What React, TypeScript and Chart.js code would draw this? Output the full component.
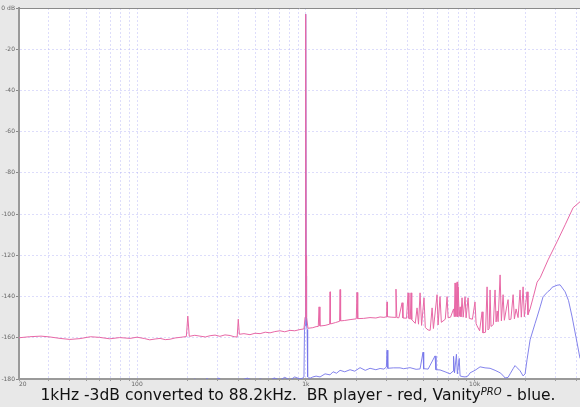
import React, { useEffect, useRef } from "react";
import { Chart, registerables } from "chart.js";

Chart.register(...registerables);

// ---- data (frequency in Hz, level in dB) ----
const redHz = [
  20, 23, 27, 30.5, 35, 40, 46, 53, 60, 69,
  79, 91, 100, 111, 119, 128, 137, 147, 157, 168,
  180, 196, 200, 204, 220, 236, 254, 271, 290, 310,
  332, 356, 376, 392, 398, 404, 430, 467, 500, 536,
  575, 614, 655, 703, 750, 806, 860, 924, 975, 990,
  996, 1000, 1004, 1010, 1030, 1100, 1150, 1185, 1198, 1212,
  1300, 1385, 1392, 1400, 1500, 1585, 1596, 1607, 1700, 1828,
  1990, 2010, 2030, 2200, 2400, 2600, 2753, 2900, 3010, 3028,
  3045, 3200, 3380, 3420, 3460, 3560, 3716, 3760, 3950, 4034,
  4080, 4160, 4200, 4240, 4450, 4559, 4650, 4751, 4850, 5014,
  5100, 5296, 5450, 5598, 5700, 5989, 6073, 6237, 6350, 6700,
  6867, 6963, 7200, 7500, 7580, 7657, 7750, 7874, 7940, 7982,
  8100, 8200, 8300, 8421, 8550, 8774, 8900, 9145, 9300, 9700,
  10050, 10200, 10330, 10700, 11070, 11200, 11600, 11850, 12000, 12200,
  12340, 12500, 12900, 13210, 13400, 13600, 13770, 14150, 14400, 14740,
  15000, 15400, 15780, 16000, 16400, 16900, 17200, 17600, 18080, 18580,
  18900, 19360, 19700, 20100, 20430, 20700, 21300, 22190, 23440, 24440,
  27230, 30770, 34360, 38300, 42080,
];
const redDb = [
  -160, -159.5, -159.2, -159.6, -160.3, -160.8, -160.4, -159.5, -159.8, -160.5,
  -159.9, -160.3, -159.7, -160.4, -161, -160.6, -160.3, -160.9, -160.7, -160.1,
  -159.8, -159.4, -149.5, -159.3, -158.8, -159.2, -159.6, -159.0, -158.7, -159.3,
  -158.6, -158.9, -159.5, -159.6, -151, -158.3, -158.0, -158.5, -157.8, -158.0,
  -157.3, -157.6, -157.0, -156.6, -157.1, -156.4, -156.6, -156.0, -155.7, -150,
  -120, -3, -120, -150, -155.4, -155.1, -154.6, -154.5, -145, -154.3,
  -154, -153.4, -137.7, -153.3, -152.6, -152, -136.6, -151.8, -151.6, -151.2,
  -150.8, -138, -150.7, -150.6, -150.2, -150.4, -149.9, -150.1, -149.8, -142.6,
  -149.8, -150, -150.1, -136.4, -150.2, -150.3, -143, -150.4, -150.5, -138.2,
  -150.6, -150.9, -138.2, -151.2, -153, -145.5, -153.4, -138.2, -154, -140.6,
  -155, -156.2, -156.4, -145.5, -155.5, -139.1, -153.8, -140, -152.5, -151,
  -140, -150.3, -150, -146, -149.8, -133.4, -149.7, -132.9, -149.8, -135.3,
  -149.6, -145, -149.8, -140.6, -150, -140.1, -150.3, -140.6, -150.6, -151,
  -142.6, -153.1, -154.2, -156.6, -147.4, -157.6, -157.3, -135.3, -156.2, -155.5,
  -136.8, -154.5, -153.6, -136.8, -152.3, -147, -152.2, -129.5, -151.8, -139.1,
  -151.5, -146, -141.5, -151.2, -151, -139.1, -150.8, -146, -150.2, -136.8,
  -150, -135.3, -149.8, -143, -137.7, -148.8, -146, -140.6, -133, -130.9,
  -122.2, -113.4, -105.2, -96.9, -94,
];

const blueHz = [
  20, 60, 100, 140, 180, 200, 220, 240, 260, 280,
  306, 330, 360, 400, 450, 500, 536, 600, 650, 703,
  750, 806, 860, 924, 960, 975, 982, 990, 996, 1000,
  1004, 1010, 1018, 1025, 1040, 1070, 1100, 1150, 1214, 1300,
  1391, 1450, 1520, 1595, 1700, 1828, 1950, 2095, 2250, 2401,
  2600, 2753, 2900, 3000, 3028, 3060, 3300, 3614, 3800, 4142,
  4500, 4751, 4945, 4990, 5300, 5825, 5900, 6237, 6679, 7149,
  7449, 7500, 7600, 7800, 7900, 8100, 8200, 8421, 8774, 9145,
  9400, 10050, 10770, 11530, 12340, 13210, 13770, 14150, 14700, 15140,
  15780, 16220, 16900, 17350, 17840, 18580, 19360, 19900, 20430, 21300,
  22810, 23440, 24440, 25430, 27230, 27990, 28770, 30770, 32070, 34360,
  36000, 37790, 40450, 42080,
];
const blueDb = [
  -183, -183, -182.5, -182, -181, -182, -180, -181.5, -179.8, -181.5,
  -179.5, -182, -180.5, -181, -179.6, -181, -180, -181, -179.5, -180.5,
  -179.2, -180.5, -179, -180, -179.5, -179, -156, -154, -130, -3,
  -130, -154, -156, -179, -179.5, -179.5, -179, -178.6, -179, -177.5,
  -178, -176.5, -177.2, -175.8, -176.5, -175.5, -176.2, -174.5, -175.8, -174.8,
  -175.5, -174.9, -175.2, -174.2, -166, -174.8, -174.6, -174.6, -175, -174.5,
  -175.3, -175.1, -167, -175, -175.2, -168.8, -175.5, -175.6, -176.5, -177.5,
  -176.2, -169, -177, -168, -177.5, -170, -178.5, -178.8, -179, -178.5,
  -177, -175.8, -174.1, -174.6, -174.8, -175.8, -176.5, -177, -178.2, -179.5,
  -179.2, -177.5, -175, -173.5, -174.5, -176, -178.5, -177.5, -170.7, -161,
  -153, -149.9, -145, -140.1, -137.5, -136.8, -135.5, -134.5, -134.3, -137.7,
  -142, -149.9, -162.5, -170,
];

const xGridHz = [
  20, 30, 40, 50, 60, 70, 80, 90,
  100, 200, 300, 400, 500, 600, 700, 800, 900,
  1000, 2000, 3000, 4000, 5000, 6000, 7000, 8000, 9000,
  10000, 20000, 30000, 40000,
];
const xTickHz = [20, 100, 1000, 10000];
const xTickText = ["20", "100", "1k", "10k"];
const yTickDb = [0, -20, -40, -60, -80, -100, -120, -140, -160, -180];
const yTickText = ["0 dB", "-20", "-40", "-60", "-80", "-100", "-120", "-140", "-160", "-180"];

const X_MIN = 20;
const X_MAX = 42080;

const RED = "rgb(232, 104, 166)";
const BLUE = "rgba(118, 118, 234, 0.9)";
const GRID = "rgba(175, 175, 245, 0.42)";
const FONT = "'DejaVu Sans', sans-serif";

const framePlugin = {
  id: "frame",
  beforeDraw(c: any) {
    const { ctx, chartArea } = c;
    ctx.save();
    ctx.fillStyle = "#ffffff";
    ctx.fillRect(chartArea.left, chartArea.top, chartArea.right - chartArea.left, chartArea.bottom - chartArea.top);
    ctx.restore();
  },
  afterDraw(c: any) {
    const { ctx, chartArea } = c;
    ctx.save();
    ctx.strokeStyle = "#8a8a8a";
    ctx.lineWidth = 1;
    ctx.beginPath();
    ctx.moveTo(chartArea.left, chartArea.top + 0.5);
    ctx.lineTo(chartArea.right, chartArea.top + 0.5);
    ctx.stroke();
    ctx.restore();
  },
};

export default function App() {
  const ref = useRef<HTMLCanvasElement>(null);

  useEffect(() => {
    const canvas = ref.current;
    if (!canvas) return;
    const chart = new Chart(canvas, {
      type: "line",
      data: {
        datasets: [
          {
            label: "BR player",
            data: redHz.map((x, i) => ({ x, y: redDb[i] })),
            borderColor: RED,
            borderWidth: 1,
            pointRadius: 0,
            tension: 0,
            fill: false,
            order: 0,
          },
          {
            label: "VanityPRO",
            data: blueHz.map((x, i) => ({ x, y: blueDb[i] })),
            borderColor: BLUE,
            borderWidth: 1,
            pointRadius: 0,
            tension: 0,
            fill: false,
            order: 1,
          },
        ],
      },
      options: {
        animation: false,
        responsive: false,
        devicePixelRatio: 1,
        layout: { padding: { top: 8, left: 0, right: 0, bottom: 0 } },
        plugins: { legend: { display: false }, tooltip: { enabled: false } },
        scales: {
          x: {
            type: "logarithmic",
            min: X_MIN,
            max: X_MAX,
            afterBuildTicks: (s: any) => {
              s.ticks = xGridHz.map((v) => ({ value: v }));
            },
            afterFit: (s: any) => {
              s.height = 9;
              s.paddingLeft = 0;
              s.paddingRight = 0;
            },
            ticks: {
              autoSkip: false,
              maxRotation: 0,
              minRotation: 0,
              align: "inner",
              padding: 0,
              color: "#666",
              font: { size: 6, family: FONT },
              callback: (v: any) => {
                const i = xTickHz.indexOf(Number(v));
                return i >= 0 ? xTickText[i] : "";
              },
            },
            grid: { color: GRID, lineWidth: 1, tickLength: 2, tickColor: "#999" },
            border: { color: "#9a9a9a", width: 2, dash: [2, 2] },
          },
          y: {
            type: "linear",
            min: -180,
            max: 0,
            afterBuildTicks: (s: any) => {
              s.ticks = yTickDb.map((v) => ({ value: v }));
            },
            afterFit: (s: any) => {
              s.width = 19;
              s.paddingTop = 0;
              s.paddingBottom = 0;
            },
            ticks: {
              padding: 1,
              color: "#666",
              font: { size: 6, family: FONT },
              callback: (v: any) => {
                const i = yTickDb.indexOf(Number(v));
                return i >= 0 ? yTickText[i] : "";
              },
            },
            grid: { color: GRID, lineWidth: 1, tickLength: 3, tickColor: "#888" },
            border: { color: "#9a9a9a", width: 2, dash: [2, 2] },
          },
        },
      },
      plugins: [framePlugin],
    } as any);
    return () => chart.destroy();
  }, []);

  return (
    <div
      style={{
        position: "fixed",
        left: 0,
        top: 0,
        width: 580,
        height: 407,
        background: "#e8e8e8",
        overflow: "hidden",
      }}
    >
      <canvas ref={ref} width={580} height={388} style={{ position: "absolute", left: 0, top: 0, width: 580, height: 388 }} />
      <div
        style={{
          position: "absolute",
          left: 8,
          top: 385,
          width: 580,
          textAlign: "center",
          fontFamily: FONT,
          fontSize: 15.5,
          lineHeight: "20px",
          color: "#111",
          whiteSpace: "pre",
        }}
      >
        {"1kHz -3dB converted to 88.2kHz.  BR player - red, Vanity"}
        <sup style={{ fontStyle: "italic", fontSize: 10, verticalAlign: "5px", lineHeight: 0 }}>PRO</sup>
        {" - blue."}
      </div>
    </div>
  );
}
